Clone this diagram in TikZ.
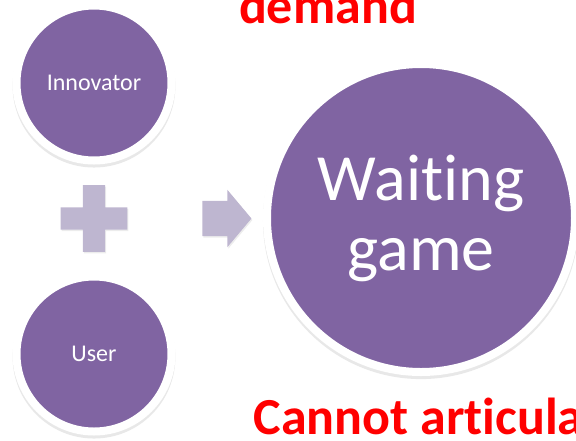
\documentclass[tikz,border=0pt]{standalone}
\usepackage{fontspec}
\setmainfont{Carlito}[Ligatures=CommonOff]
\usepackage{xcolor}
\usepackage{tikz}
\usetikzlibrary{shapes.arrows, shadows}
\definecolor{violetnode}{RGB}{128,100,162}
\definecolor{violetpale}{RGB}{190,182,208}
\definecolor{rougetexte}{RGB}{255,0,0}
\tikzstyle{bulle}=[circle, fill=violetnode, draw=white, line width=8pt, inner sep=0pt, text=white]
\tikzstyle{signe}=[fill=violetpale, drop shadow={opacity=0.15, shadow xshift=1pt, shadow yshift=-1.5pt}]
\tikzstyle{titre}=[text=rougetexte, font=\fontsize{52}{56}\selectfont\bfseries, inner sep=0pt]

\begin{document}
\begin{tikzpicture}[x=1pt, y=-1pt]
	\useasboundingbox (0,0) rectangle (576,440);
	\clip (0,0) rectangle (576,440);
	
	\coordinate (i) at (94,83);
	\coordinate (u) at (94,354);
	\coordinate (w) at (421,218);
	\coordinate (p) at (94,218.5);
	
	% cercles
	\node[bulle, minimum size=155pt, font=\fontsize{24}{28}\selectfont, drop shadow={opacity=0.18, shadow xshift=0pt, shadow yshift=-3pt, shadow scale=1.05}] (innov) at (i) {Innovator};
	\node[bulle, minimum size=155pt, font=\fontsize{24}{28}\selectfont, drop shadow={opacity=0.18, shadow xshift=0pt, shadow yshift=-3pt, shadow scale=1.05}] (user) at (u) {User};
	\node[bulle, minimum size=308pt, align=center, font=\fontsize{66}{70}\selectfont, drop shadow={opacity=0.18, shadow xshift=0pt, shadow yshift=-3pt, shadow scale=1.026}] (wait) at (w) {Waiting\\game};
	
	% plus
	\fill[signe] (p) ++(-11.2,-33.3) -- ++(22.4,0) -- ++(0,22.1) -- ++(22.1,0) -- ++(0,22.4) -- ++(-22.1,0) -- ++(0,22.1) -- ++(-22.4,0) -- ++(0,-22.1) -- ++(-22.1,0) -- ++(0,-22.4) -- ++(22.1,0) -- cycle;
	
	% fleche
	\node[single arrow, signe, minimum height=49pt, single arrow head extend=11pt, single arrow tip angle=100, single arrow head indent=0pt, inner xsep=0pt, inner ysep=17.5pt] (fleche) at (219.5,218.5) {};
	
	% textes rouges
	\node[titre, anchor=base] (demande) at (328,23.3) {demand};
	\node[titre, anchor=base west] (cannot) at (253.5,434.5) {Cannot articula};
\end{tikzpicture}
\end{document}
